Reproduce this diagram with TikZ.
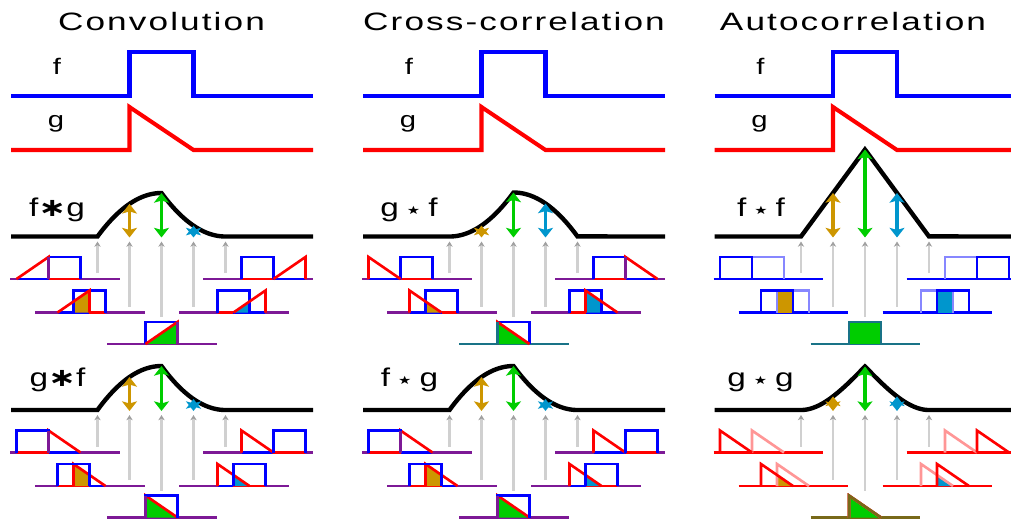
\documentclass[tikz,border=0pt]{standalone}
\usepackage{fontspec}
\setmainfont{Liberation Sans}
\newfontfamily\titlefont[LetterSpace=6.0]{Liberation Sans}
\newfontfamily\symfont{DejaVu Sans}
\usetikzlibrary{arrows.meta}

\definecolor{fblue}{RGB}{0,0,255}
\definecolor{gred}{RGB}{255,0,0}
\definecolor{lblue}{RGB}{135,135,255}
\definecolor{lred}{RGB}{255,150,150}
\definecolor{mixpurple}{RGB}{125,25,150}
\definecolor{mixteal}{RGB}{25,115,135}
\definecolor{mixolive}{RGB}{120,105,25}
\definecolor{cgold}{RGB}{205,150,0}
\definecolor{cgreen}{RGB}{0,205,0}
\definecolor{ccyan}{RGB}{0,150,205}
\definecolor{sgray}{RGB}{208,208,208}
\definecolor{sgraytip}{RGB}{160,160,160}

% operator symbols
\newcommand\opconv{{\symfont\bfseries ∗}}
\newcommand\opcorr{\hspace{0.24em}\raisebox{1.3pt}{\symfont\fontsize{6.5}{7}\selectfont ★}\hspace{0.24em}}

% value of a unit-width shape (1 box, 2 falling ramp, 3 rising ramp) starting at #3, at x=#4
\newcommand\fval[4]{%
  \ifcase#2\or\pgfmathsetmacro#1{1}%
  \or\pgfmathsetmacro#1{1-(#4)+(#3)}%
  \or\pgfmathsetmacro#1{(#4)-(#3)}\fi}

% draw a unit-width shape of type #1 starting at #2 with style #3
\newcommand\drawshape[3]{%
  \ifcase#1\or
    \draw[#3] (#2,0) -- (#2,1) -- ({#2+1},1) -- ({#2+1},0);
  \or
    \draw[#3] (#2,0) -- (#2,1) -- ({#2+1},0);
  \or
    \draw[#3] (#2,0) -- ({#2+1},1) -- ({#2+1},0);
  \fi}

% one small overlap plot: origin x #1, baseline y #2, shift #3, fill colour #4, shared-line colour #5
\newcommand\splot[5]{%
  \begin{scope}[shift={({#1},{#2})},x=0.64cm,y=0.44cm]
    \pgfmathsetmacro\sa{#3}%
    \pgfmathsetmacro\sb{#3+1}%
    \pgfmathsetmacro\xa{max(0,#3)}%
    \pgfmathsetmacro\xb{min(1,#3+1)}%
    \pgfmathtruncatemacro\szero{abs(#3)<0.01}%
    \draw[sline,#5] (-1.2031,0) -- (2.2344,0);
    \ifnum\szero=0
      \draw[sline,\colB] (0,0) -- (1,0);
      \draw[sline,\colAz] (\sa,0) -- (\sb,0);
    \fi
    \pgfmathtruncatemacro\hasov{\xb-\xa>0.01}%
    \ifnum\hasov=1
      \fval{\vA}{\Atype}{0}{\xa}\fval{\vB}{\Btype}{\sa}{\xa}\pgfmathsetmacro\ma{min(\vA,\vB)}%
      \fval{\vA}{\Atype}{0}{\xb}\fval{\vB}{\Btype}{\sa}{\xb}\pgfmathsetmacro\mb{min(\vA,\vB)}%
      \fill[#4] (\xa,0) -- (\xa,\ma) -- (\xb,\mb) -- (\xb,0) -- cycle;
    \fi
    \drawshape{\Atype}{0}{sline,\colA}
    \drawshape{\Btype}{\sa}{sline,\colB}
    \ifcase\Atype\or\def\Alist{0,1}\or\def\Alist{0}\or\def\Alist{1}\fi
    \ifcase\Btype\or\edef\Blist{\sa,\sb}\or\edef\Blist{\sa}\or\edef\Blist{\sb}\fi
    \foreach \pp in \Blist {\foreach \qq in \Alist {%
      \pgfmathtruncatemacro\hit{abs(\pp-\qq)<0.01}%
      \ifnum\hit=1 \draw[sline,#5] (\pp,0) -- (\pp,1);\fi}}
    \ifnum\szero=1 \ifnum\Atype=\Btype\relax
      \drawshape{\Btype}{\sa}{sline,#5}
    \fi\fi
  \end{scope}}

% one result panel: column offset #1, baseline y #2, normalised curve in \uu on [0,2] #3, height #4
\newcommand\panel[4]{%
  \foreach \kk/\dd in {0/36.5,1/70,2/80.5,3/70,4/36.5}{
    \coordinate (gs\kk) at ({#1+97.5+32*\kk},{#2+\dd});
    \coordinate (ge\kk) at ({#1+97.5+32*\kk},{#2+5});
    \draw[grayarrow] (gs\kk) -- (ge\kk);
  }
  \draw[curve] ({#1+11},#2) -- plot[domain=0:2,samples=101,variable=\uu]
    ({#1+97.5+64*\uu},{#2-#4*(#3)}) -- ({#1+313},#2);
  \foreach \kk/\acol in {1/cgold,2/cgreen,3/ccyan}{
    \pgfmathsetmacro\uu{\kk/2}
    \pgfmathsetmacro\val{#3}
    \coordinate (vb\kk) at ({#1+97.5+32*\kk},{#2+1});
    \coordinate (vt\kk) at ({#1+97.5+32*\kk},{#2-#4*\val});
    \draw[valarrow,\acol] (vb\kk) -- (vt\kk);
  }
  \splot{#1+48.5}{#2+42.5}{-1}{cgold}{\mixc}
  \splot{#1+73.5}{#2+76}{-0.5}{cgold}{\mixc}
  \splot{#1+145.5}{#2+107.5}{0}{cgreen}{\mixbot}
  \splot{#1+217.5}{#2+76}{0.5}{ccyan}{\mixc}
  \splot{#1+241.5}{#2+42.5}{1}{cgold}{\mixc}
}

\begin{document}
\begin{tikzpicture}[x=0.02cm,y=-0.02cm,
  mainline/.style={line width=2.3pt},
  curve/.style={line width=2.5pt,black},
  sline/.style={line width=1.5pt},
  grayarrow/.style={draw=sgray,line width=1.2pt,-{Stealth[length=3pt,width=3.6pt,color=sgraytip]}},
  valarrow/.style={line width=2pt,{Stealth[length=5.5pt,width=8.5pt,inset=1.2pt]}-{Stealth[length=5.5pt,width=8.5pt,inset=1.2pt]}},
  title/.style={anchor=base,inner sep=0pt,font=\titlefont\fontsize{14.3}{16}\selectfont},
  flabel/.style={anchor=base,inner sep=0pt,font=\fontsize{12.8}{14}\selectfont},
  oplabel/.style={anchor=base,inner sep=0pt,font=\fontsize{14.6}{16}\selectfont}]
\useasboundingbox (0,0) rectangle (1011,522);
\clip (0,0) rectangle (1011,522);

% column titles
\node[title] (ttl1) at (161.5,30.7) {\scalebox{1.4}[1]{Convolution}};
\node[title] (ttl2) at (514,30.7) {\scalebox{1.4}[1]{Cross-correlation}};
\node[title] (ttl3) at (853,30.7) {\scalebox{1.4}[1]{Autocorrelation}};

% the two input signals in every column
\foreach \ox/\n in {0/1,352/2,703.5/3}{
  \node[flabel] (lf\n) at ({\ox+57},74) {\scalebox{1.3}[1]{f}};
  \node[flabel] (lg\n) at ({\ox+56},127) {\scalebox{1.3}[1]{g}};
  \draw[mainline,fblue] ({\ox+11},96) -- ({\ox+129.5},96) -- ({\ox+129.5},52)
    -- ({\ox+193.5},52) -- ({\ox+193.5},96) -- ({\ox+313},96);
  \draw[mainline,gred] ({\ox+11},150) -- ({\ox+129.5},150) -- ({\ox+129.5},107)
    -- ({\ox+193.5},150) -- ({\ox+313},150);
}

% result labels
\node[oplabel] (r1) at (57,216.5) {\scalebox{1.3}[1]{f\opconv g}};
\node[oplabel] (r2) at (409,216.5) {\scalebox{1.3}[1]{g\opcorr f}};
\node[oplabel] (r3) at (761,216.5) {\scalebox{1.3}[1]{f\opcorr f}};
\node[oplabel] (r4) at (57.5,386.7) {\scalebox{1.3}[1]{g\opconv f}};
\node[oplabel] (r5) at (409.5,386.7) {\scalebox{1.3}[1]{f\opcorr g}};
\node[oplabel] (r6) at (760.5,386.7) {\scalebox{1.3}[1]{g\opcorr g}};

% f * g
\def\Atype{1}\def\Btype{3}\def\colA{fblue}\def\colAz{fblue}\def\colB{gred}
\def\mixc{mixpurple}\def\mixbot{mixpurple}
\panel{0}{236.5}{(\uu<1)*(2*\uu-\uu*\uu)+(1-(\uu<1))*(2-\uu)*(2-\uu)}{43.5}

% g * f
\def\Atype{2}\def\Btype{1}\def\colA{gred}\def\colAz{gred}\def\colB{fblue}
\def\mixc{mixpurple}\def\mixbot{mixpurple}
\panel{0}{410}{(\uu<1)*(2*\uu-\uu*\uu)+(1-(\uu<1))*(2-\uu)*(2-\uu)}{44}

% g star f
\def\Atype{1}\def\Btype{2}\def\colA{fblue}\def\colAz{fblue}\def\colB{gred}
\def\mixc{mixpurple}\def\mixbot{mixteal}
\panel{352}{236.5}{(\uu<1)*\uu*\uu+(1-(\uu<1))*(2*(2-\uu)-(2-\uu)*(2-\uu))}{44}

% f star g
\def\Atype{2}\def\Btype{1}\def\colA{gred}\def\colAz{gred}\def\colB{fblue}
\def\mixc{mixpurple}\def\mixbot{mixpurple}
\panel{352}{410}{(\uu<1)*(2*\uu-\uu*\uu)+(1-(\uu<1))*(2-\uu)*(2-\uu)}{44}

% f star f
\def\Atype{1}\def\Btype{1}\def\colA{lblue}\def\colAz{fblue}\def\colB{fblue}
\def\mixc{fblue}\def\mixbot{mixteal}
\panel{703.5}{236.5}{1-abs(\uu-1)}{87}

% g star g
\def\Atype{2}\def\Btype{2}\def\colA{lred}\def\colAz{gred}\def\colB{gred}
\def\mixc{gred}\def\mixbot{mixolive}
\panel{703.5}{410}{1-1.5*abs(\uu-1)+0.5*abs(\uu-1)*abs(\uu-1)*abs(\uu-1)}{43.5}
\end{tikzpicture}
\end{document}
